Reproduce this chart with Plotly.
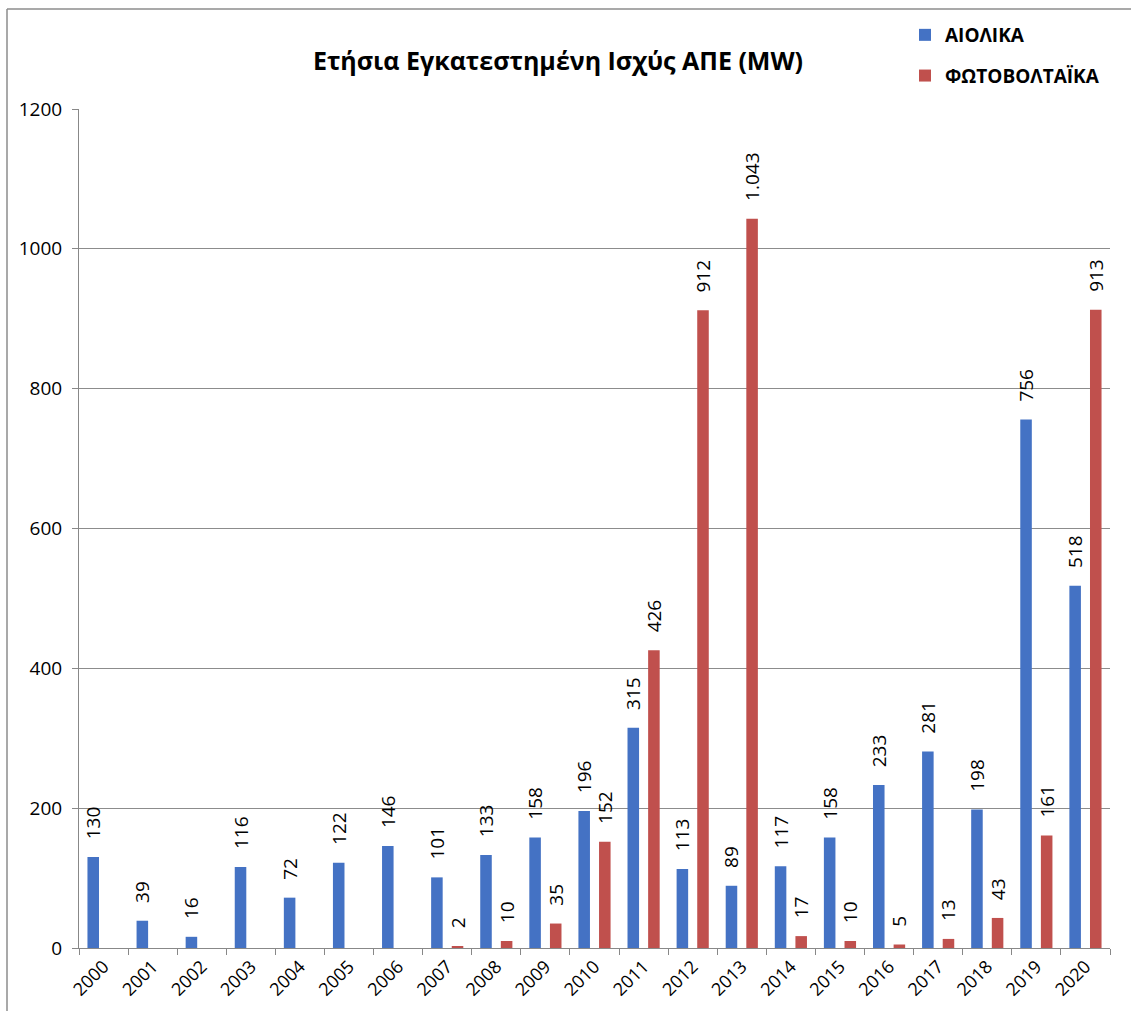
import plotly.graph_objects as go

years = [str(y) for y in range(2000, 2021)]
wind = [130, 39, 16, 116, 72, 122, 146, 101, 133, 158, 196, 315, 113, 89, 117, 158, 233, 281, 198, 756, 518]
pv = [None, None, None, None, None, None, None, 2, 10, 35, 152, 426, 912, 1043, 17, 10, 5, 13, 43, 161, 913]
series_names = ["ΑΙΟΛΙΚΑ", "ΦΩΤΟΒΟΛΤΑΪΚΑ"]
colors = ["#4472C4", "#C0504D"]
y_ticks = [0, 200, 400, 600, 800, 1000, 1200]
title = "Ετήσια Εγκατεστημένη Ισχύς ΑΠΕ (MW)"

FONT = "Open Sans"
PAD = "\u00a0\u00a0\u00a0"


def fmt(v):
    if v is None:
        return ""
    return PAD + f"{v:,}".replace(",", ".")


fig = go.Figure()
for i, (name, vals) in enumerate(zip(series_names, [wind, pv])):
    fig.add_trace(go.Bar(
        x=years, y=vals, name=name, legendgroup=name,
        marker=dict(color=colors[i], line=dict(width=0)),
        text=[fmt(v) for v in vals],
        textposition="outside", textangle=-90, constraintext="none",
        textfont=dict(family=FONT, size=19, color="#000000"),
        cliponaxis=False,
    ))

W, H = 1131, 1011
L, R, T, B = 79, 21, 109, 63
pw = W - L - R
ph = H - T - B

def px2x(px):
    return (px - L) / pw

def py2y(py):
    return (H - B - py) / ph

fig.update_layout(
    width=W, height=H,
    margin=dict(l=L, r=R, t=T, b=B, pad=0, autoexpand=False),
    paper_bgcolor="white", plot_bgcolor="white",
    barmode="group", bargap=0.16, bargroupgap=0.44,
    title=dict(text="<b>" + title + "</b>", x=558 / W, xanchor="center",
               y=1 - 61 / H, yanchor="middle", yref="container",
               font=dict(family=FONT, size=25, color="#000000")),
    legend=dict(x=905 / W, xref="container", y=1 - 16 / H, yref="container",
                xanchor="left", yanchor="top", orientation="v",
                tracegroupgap=13, bgcolor="rgba(0,0,0,0)",
                font=dict(family=FONT, size=19, color="#000000", weight="bold"),
                itemclick=False),
    font=dict(family=FONT, color="#000000"),
    xaxis=dict(type="category", tickangle=-45, tickson="boundaries",
               ticks="outside", ticklen=6, tickcolor="#888888",
               showline=True, linecolor="#888888", linewidth=1,
               automargin=False,
               tickfont=dict(family=FONT, size=18, color="#000000"),
               showgrid=False),
    yaxis=dict(range=[0, 1200], tickvals=y_ticks, ticks="outside", ticklen=6,
               tickcolor="#888888", showline=True, linecolor="#888888",
               linewidth=1, showgrid=True, gridcolor="#8c8c8c", gridwidth=1,
               zeroline=False, ticklabelstandoff=6, automargin=False,
               tickfont=dict(family=FONT, size=19, color="#000000")),
    shapes=[
        dict(type="line", xref="paper", yref="paper",
             x0=px2x(7), x1=px2x(W + 5), y0=py2y(9), y1=py2y(9),
             line=dict(color="#8c8c8c", width=1.5)),
        dict(type="line", xref="paper", yref="paper",
             x0=px2x(7), x1=px2x(7), y0=py2y(9), y1=py2y(H + 5),
             line=dict(color="#8c8c8c", width=1.5)),
    ],
)

fig.write_html("out.html", config={"displayModeBar": False},
               post_script="document.body.style.margin='0';document.body.style.overflow='hidden';")
